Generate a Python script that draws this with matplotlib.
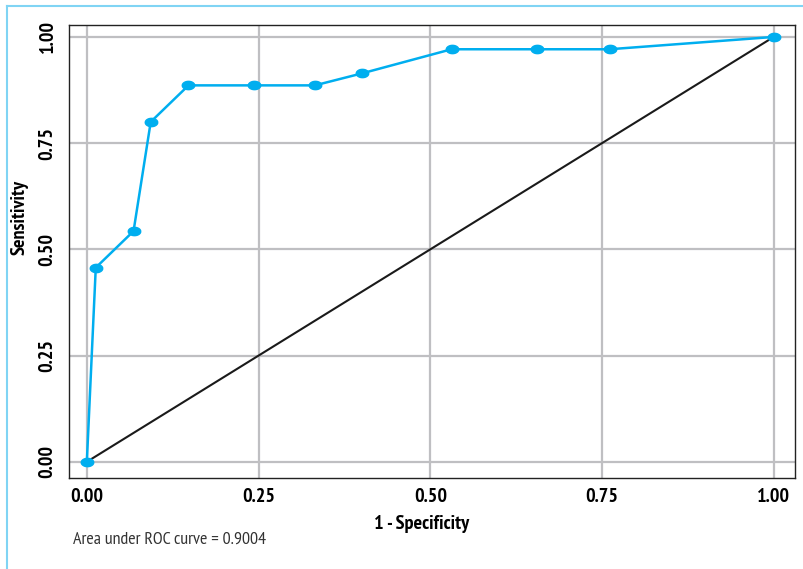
import matplotlib
matplotlib.use("Agg")
import matplotlib.pyplot as plt
from matplotlib.lines import Line2D
from matplotlib.path import Path
import numpy as np

# ROC points read as (1 - specificity, sensitivity)
fpr = [0.0, 0.013, 0.068, 0.093, 0.148, 0.243, 0.332, 0.400, 0.531, 0.656, 0.761, 1.0]
tpr = [0.0, 0.457, 0.543, 0.800, 0.886, 0.886, 0.886, 0.914, 0.971, 0.971, 0.971, 1.0]
ticks = [0.0, 0.25, 0.5, 0.75, 1.0]
tick_labels = ["0.00", "0.25", "0.50", "0.75", "1.00"]
auc = 0.9004

plt.rcParams["font.family"] = ["PT Sans Narrow", "DejaVu Sans"]

blue = "#00aeef"
grid_col = "#bfbfc2"

# flattened ellipse used as point marker
th = np.linspace(0, 2 * np.pi, 40)
ellipse = Path(np.column_stack([1.5 * np.cos(th), np.sin(th)]))

fig = plt.figure(figsize=(8.04, 5.69), dpi=100)
ax = fig.add_axes([0.0858, 0.160, 0.903, 0.796])

for t in ticks:
    ax.axhline(t, color=grid_col, lw=1.6, zorder=0)
    ax.axvline(t, color=grid_col, lw=1.6, zorder=0)

ax.plot([0, 1], [0, 1], color="#1a1a1a", lw=1.5, zorder=2)
ax.plot(fpr, tpr, color=blue, lw=1.8, marker=ellipse, ms=9,
        mec=blue, mfc=blue, zorder=3)

ax.set_xlim(-0.026, 1.031)
ax.set_ylim(-0.038, 1.028)
ax.set_xticks(ticks)
ax.set_xticklabels(tick_labels, fontsize=14.5, fontweight="bold")
ax.set_yticks(ticks)
ax.set_yticklabels(tick_labels, fontsize=14.5, fontweight="bold",
                   rotation=90, va="center")
ax.tick_params(axis="x", length=0, pad=7)
ax.tick_params(axis="y", length=0, pad=9)
for s in ax.spines.values():
    s.set_color("#222222")
    s.set_linewidth(1.0)

ax.set_xlabel("1 - Specificity", fontsize=14.5, fontweight="bold")
ax.xaxis.set_label_coords(0.486, -0.082)
ax.set_ylabel("Sensitivity", fontsize=14.5, fontweight="bold")
ax.yaxis.set_label_coords(-0.055, 0.574)

fig.text(73 / 804, 1 - 540 / 569, "Area under ROC curve = %.4f" % auc,
         fontsize=13, color="#333333", va="center", ha="left")

# light blue frame on the top and left edges
fig.add_artist(Line2D([7 / 804, 1], [1 - 6 / 569] * 2, color="#80d4f4", lw=1.5))
fig.add_artist(Line2D([7 / 804] * 2, [0, 1 - 6 / 569], color="#80d4f4", lw=1.5))

fig.savefig("out.png", dpi=100)
